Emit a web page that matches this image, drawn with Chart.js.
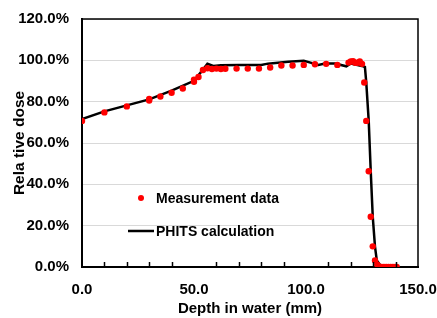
<!DOCTYPE html>
<html>
<head>
<meta charset="utf-8">
<script src="https://cdn.jsdelivr.net/npm/chart.js@4"></script>
<style>
  html, body { margin: 0; padding: 0; background: #fff; }
  #wrap { width: 437px; height: 318px; }
</style>
</head>
<body>
<div id="wrap"><canvas id="dose-chart"></canvas></div>
<script>
// measured depth-dose points (mm, %)
const measDepth = [0, 10, 20, 30, 30, 35, 40, 45, 50, 50, 52, 54, 56, 58, 60, 62, 64, 69, 74, 79, 84, 89, 94, 99, 104, 109, 114,
    119, 120, 121, 122, 123, 124, 125, 126, 126.9, 128, 128.9, 129.8, 130.8, 131.8, 132.7, 133.8, 134.8, 135.8, 136.8, 137.8, 138.8, 139.8, 140.5];
const measDose = [70.7, 74.8, 77.7, 80.6, 81.3, 82.5, 84.3, 86.4, 89.6, 90.6, 91.9, 95.3, 96.2, 95.8, 96.0, 95.8, 95.9, 96.0, 96.0, 96.0, 96.5, 97.5, 97.5, 97.8, 98.1, 98.3, 97.8,
    98.9, 99.4, 99.6, 98.8, 98.8, 99.4, 98.3, 89.3, 70.7, 46.3, 24.3, 10.0, 3.2, 1.1, 0.2, 0, 0, 0, 0, 0, 0, 0, 0];

// PHITS calculation curve (mm, %)
const calcDepth = [0, 10, 20, 30, 40, 50, 54, 56, 58.6, 62, 70, 80, 83, 92, 99, 102, 105.5, 108.5, 113, 118, 120, 124.9, 126.3, 126.9, 128, 128.9, 129.8, 130.8, 131.6, 133.4, 135, 140.5];
const calcDose = [71.6, 75.3, 78.2, 81.1, 85.3, 90.1, 95.5, 98.3, 97.3, 97.6, 97.7, 97.7, 98.4, 99.3, 99.8, 98.9, 97.8, 98.5, 98.5, 97.1, 98.5, 97.3, 96.8, 89.3, 70.7, 46.3, 24.3, 9.9, 3.2, 0.5, 0, 0];

const xTicksMinor = [10, 20, 30, 40, 60, 70, 80, 90, 110, 120, 130, 140];

const FONT = 'Liberation Sans, Arial, sans-serif';

const toXY = (xs, ys) => xs.map((x, i) => ({ x, y: ys[i] }));

// frame, inner ticks and in-plot legend
const framePlugin = {
    id: 'frame',
    afterDatasetsDraw(chart) {
        const { ctx, chartArea: a, scales } = chart;
        ctx.save();
        ctx.strokeStyle = '#000';
        ctx.lineWidth = 1.5;
        ctx.beginPath();
        ctx.moveTo(a.left, a.top);
        ctx.lineTo(a.right, a.top);
        ctx.lineTo(a.right, a.bottom);
        ctx.stroke();

        xTicksMinor.forEach(v => {
            const px = Math.round(scales.x.getPixelForValue(v)) + 0.5;
            ctx.beginPath();
            ctx.moveTo(px, a.bottom);
            ctx.lineTo(px, a.bottom - 5);
            ctx.stroke();
        });

        // legend
        ctx.fillStyle = '#ff0000';
        ctx.beginPath();
        ctx.arc(141, 198, 3, 0, Math.PI * 2);
        ctx.fill();
        ctx.lineWidth = 2.5;
        ctx.beginPath();
        ctx.moveTo(128, 231);
        ctx.lineTo(154, 231);
        ctx.stroke();
        ctx.fillStyle = '#000';
        ctx.font = 'bold 14px ' + FONT;
        ctx.textBaseline = 'middle';
        ctx.fillText('Measurement data', 156, 199);
        ctx.fillText('PHITS calculation', 156, 232);
        ctx.restore();
    }
};

new Chart(document.getElementById('dose-chart'), {
    type: 'scatter',
    data: {
        datasets: [{
            label: 'Measurement data',
            data: toXY(measDepth, measDose),
            backgroundColor: '#ff0000',
            borderColor: '#ff0000',
            pointRadius: 3.2,
            borderWidth: 0,
            order: 0
        }, {
            label: 'PHITS calculation',
            data: toXY(calcDepth, calcDose),
            showLine: true,
            borderColor: '#000',
            borderWidth: 2.5,
            pointRadius: 0,
            tension: 0,
            order: 1
        }]
    },
    options: {
        responsive: true,
        maintainAspectRatio: false,
        animation: false,
        layout: { padding: { left: 0, right: 19, top: 19, bottom: 0 } },
        plugins: {
            legend: { display: false },
            tooltip: { enabled: false }
        },
        scales: {
            x: {
                type: 'linear',
                min: 0, max: 150,
                afterFit: s => { s.height = 51; s.paddingLeft = 0; s.paddingRight = 0; },
                border: { color: '#000', width: 2 },
                grid: { display: false },
                ticks: {
                    stepSize: 50,
                    padding: 6,
                    color: '#000',
                    maxRotation: 0,
                    font: { family: FONT, size: 15, weight: 'bold' },
                    callback: v => v.toFixed(1)
                },
                title: {
                    display: true,
                    text: 'Depth in water (mm)',
                    color: '#000',
                    padding: { top: 0, bottom: 0 },
                    font: { family: FONT, size: 15, weight: 'bold' }
                }
            },
            y: {
                min: 0, max: 120,
                afterFit: s => { s.width = 82; s.paddingTop = 0; s.paddingBottom = 0; },
                border: { color: '#000', width: 2 },
                grid: { color: '#d9d9d9', lineWidth: 1, drawTicks: false },
                ticks: {
                    stepSize: 20,
                    padding: 13,
                    color: '#000',
                    font: { family: FONT, size: 15, weight: 'bold' },
                    callback: v => v.toFixed(1) + '%'
                },
                title: {
                    display: true,
                    text: 'Rela tive dose',
                    color: '#000',
                    padding: { top: 10, bottom: 0 },
                    font: { family: FONT, size: 15.5, weight: 'bold' }
                }
            }
        }
    },
    plugins: [framePlugin]
});
</script>
</body>
</html>
